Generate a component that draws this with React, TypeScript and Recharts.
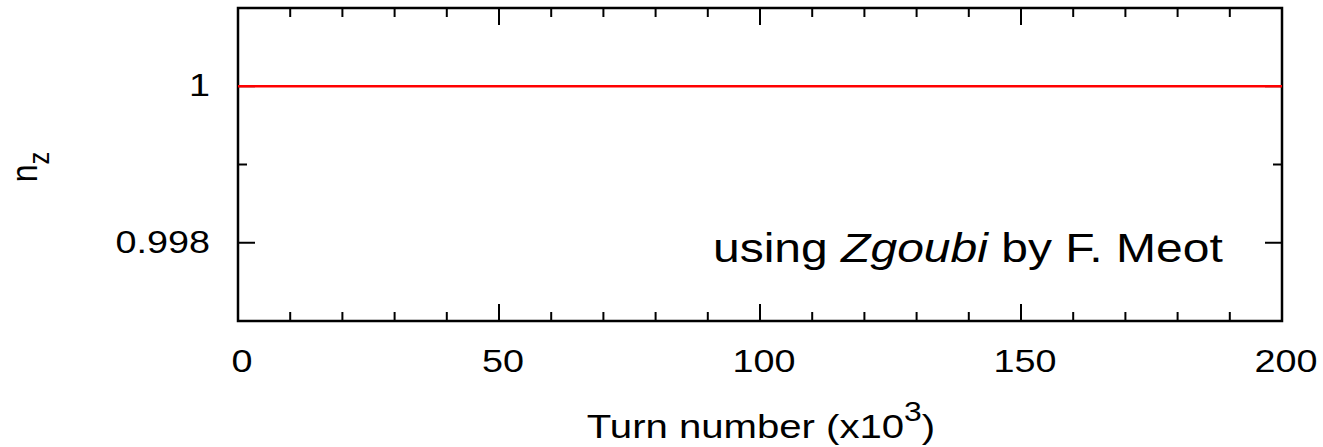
import React from "react";
import { LineChart, Line, XAxis, YAxis, ReferenceArea, Customized } from "recharts";

// turn number (x10^3) vs n_z
const TURNS = [0, 25, 50, 75, 100, 125, 150, 175, 200];
const NZ = [1, 1, 1, 1, 1, 1, 1, 1, 1];

const X_TICKS = [0, 10, 20, 30, 40, 50, 60, 70, 80, 90, 100, 110, 120, 130, 140, 150, 160, 170, 180, 190, 200];
const X_LABELED = [0, 50, 100, 150, 200];
const Y_TICKS = [0.997, 0.998, 0.999, 1, 1.001];
const Y_LABELED = [0.998, 1];

const DATA = TURNS.map((t, i) => ({ turn: t, nz: NZ[i] }));

const FONT = "'Liberation Sans', Arial, sans-serif";
const SX = 1.18; // text in the original is stretched horizontally
const MAJOR = 17;
const MINOR = 9;

function XTick(props: any) {
  const { x, y, payload, side } = props;
  const v = payload.value;
  const major = X_LABELED.includes(v);
  const len = major ? MAJOR : MINOR;
  const dir = side === "top" ? 1 : -1;
  return (
    <g>
      <line x1={x} y1={y} x2={x} y2={y + dir * len} stroke="#000" strokeWidth={2} />
      {side !== "top" && major && (
        <text
          transform={`translate(${x + 4},${y + 51}) scale(${SX},1)`}
          textAnchor="middle"
          fontSize={32}
          fontFamily={FONT}
          fill="#000"
        >
          {v}
        </text>
      )}
    </g>
  );
}

function YTick(props: any) {
  const { x, y, payload, side } = props;
  const v = payload.value;
  const major = Y_LABELED.some((m) => Math.abs(m - v) < 1e-9);
  const len = major ? MAJOR : MINOR;
  const dir = side === "right" ? -1 : 1;
  return (
    <g>
      <line x1={x} y1={y} x2={x + dir * len} y2={y} stroke="#000" strokeWidth={2} />
      {side !== "right" && major && (
        <text
          transform={`translate(${x - 28},${y + 10}) scale(${SX},1)`}
          textAnchor="end"
          fontSize={32}
          fontFamily={FONT}
          fill="#000"
        >
          {String(v)}
        </text>
      )}
    </g>
  );
}

function Labels() {
  return (
    <g fontFamily={FONT} fill="#000">
      <text transform={`translate(761,438) scale(${SX},1)`} textAnchor="middle" fontSize={34}>
        Turn number (x10
        <tspan fontSize={27} dy={-17}>3</tspan>
        <tspan dy={17}>)</tspan>
      </text>
      <text transform={`translate(37,167) rotate(-90) scale(1,${SX})`} textAnchor="middle" fontSize={32}>
        n
        <tspan fontSize={25.6} dy={10}>z</tspan>
      </text>
      <text transform={`translate(713,262) scale(${SX},1)`} fontSize={40.7}>
        using <tspan fontStyle="italic">Zgoubi</tspan> by F. Meot
      </text>
    </g>
  );
}

export default function App() {
  return (
    <div style={{ position: "absolute", left: 0, top: 0, width: 1323, height: 447, background: "#fff" }}>
      <LineChart width={1323} height={447} data={DATA} margin={{ top: 0, right: 0, left: 0, bottom: 0 }}>
        <XAxis
          xAxisId="b"
          dataKey="turn"
          type="number"
          domain={[0, 200]}
          ticks={X_TICKS}
          interval={0}
          height={126}
          tickSize={0}
          tickMargin={0}
          axisLine={false}
          tick={(p: any) => <XTick {...p} side="bottom" />}
        />
        <XAxis
          xAxisId="t"
          orientation="top"
          dataKey="turn"
          type="number"
          domain={[0, 200]}
          ticks={X_TICKS}
          interval={0}
          height={8}
          tickSize={0}
          tickMargin={0}
          axisLine={false}
          tick={(p: any) => <XTick {...p} side="top" />}
        />
        <YAxis
          yAxisId="l"
          type="number"
          domain={[0.997, 1.001]}
          ticks={Y_TICKS}
          interval={0}
          allowDataOverflow
          width={238}
          tickSize={0}
          tickMargin={0}
          axisLine={false}
          tick={(p: any) => <YTick {...p} side="left" />}
        />
        <YAxis
          yAxisId="r"
          orientation="right"
          type="number"
          domain={[0.997, 1.001]}
          ticks={Y_TICKS}
          interval={0}
          allowDataOverflow
          width={41}
          tickSize={0}
          tickMargin={0}
          axisLine={false}
          tick={(p: any) => <YTick {...p} side="right" />}
        />
        <ReferenceArea
          xAxisId="b"
          yAxisId="l"
          x1={0}
          x2={200}
          y1={0.997}
          y2={1.001}
          fill="none"
          fillOpacity={0}
          stroke="#000"
          strokeWidth={2.5}
          ifOverflow="visible"
        />
        <Line
          xAxisId="b"
          yAxisId="l"
          dataKey="nz"
          stroke="#ff0000"
          strokeWidth={2.5}
          dot={false}
          isAnimationActive={false}
          zIndex={2000}
        />
        <Customized component={Labels} />
      </LineChart>
    </div>
  );
}
